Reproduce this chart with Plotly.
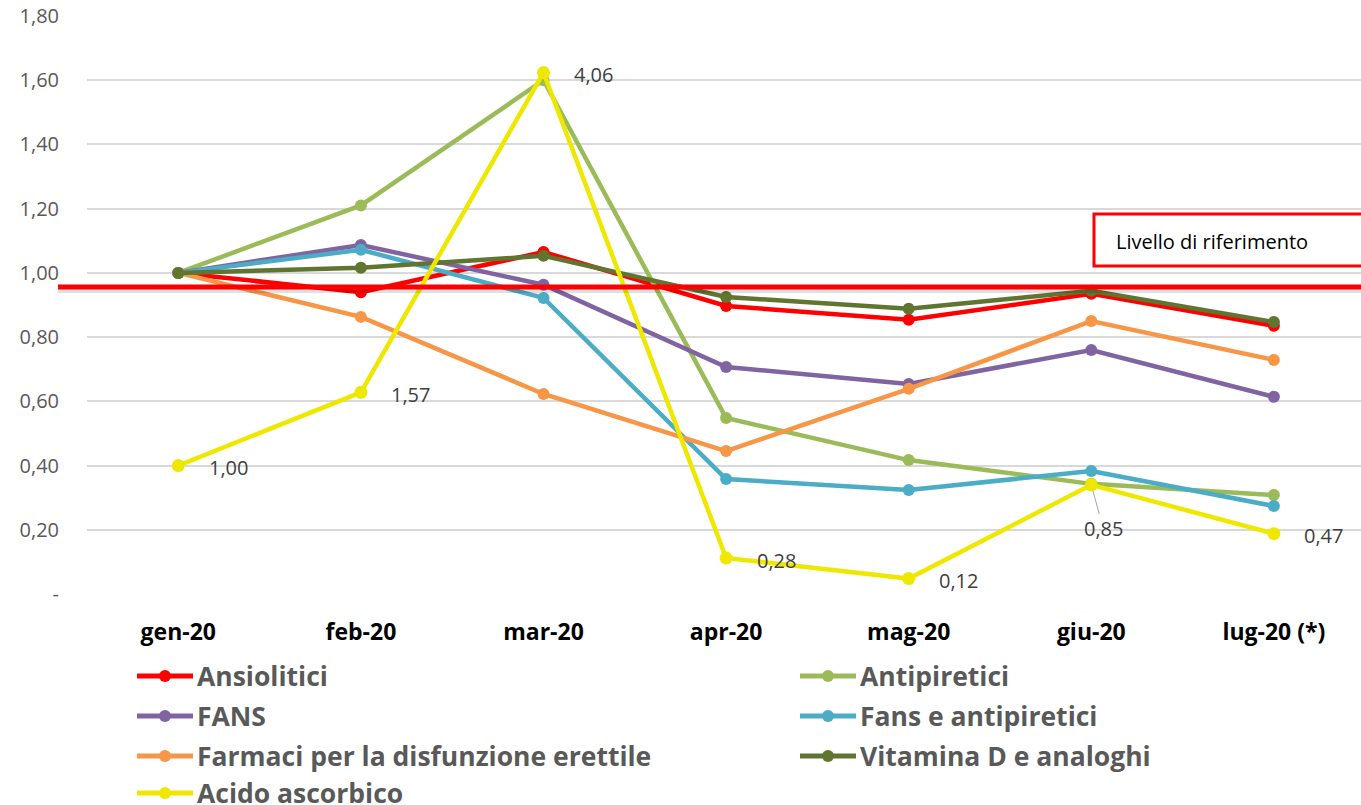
import plotly.graph_objects as go

# Months (x categories)
mesi = ["gen-20", "feb-20", "mar-20", "apr-20", "mag-20", "giu-20", "lug-20 (*)"]

# Index values (gen-20 = 1,00) per drug class
ansiolitici = [1.00, 0.94, 1.065, 0.897, 0.854, 0.935, 0.835]
antipiretici = [1.00, 1.21, 1.60, 0.548, 0.417, 0.343, 0.308]
fans = [1.00, 1.087, 0.963, 0.707, 0.654, 0.760, 0.614]
fans_antipiretici = [1.00, 1.072, 0.922, 0.358, 0.324, 0.383, 0.274]
disfunzione_erettile = [1.00, 0.863, 0.623, 0.445, 0.639, 0.850, 0.729]
vitamina_d = [1.00, 1.016, 1.053, 0.925, 0.888, 0.944, 0.847]
# Acido ascorbico runs on its own (hidden) secondary scale
acido_ascorbico = [1.00, 1.57, 4.06, 0.28, 0.12, 0.85, 0.47]

livello_riferimento = 0.956

y_ticks = [0, 0.2, 0.4, 0.6, 0.8, 1.0, 1.2, 1.4, 1.6, 1.8]
y_ticktext = ["-", "0,20", "0,40", "0,60", "0,80", "1,00", "1,20", "1,40", "1,60", "1,80"]

series = [
    ("Ansiolitici", ansiolitici, "#FF0000", "y"),
    ("Antipiretici", antipiretici, "#9BBB59", "y"),
    ("FANS", fans, "#8064A2", "y"),
    ("Fans e antipiretici", fans_antipiretici, "#4BACC6", "y"),
    ("Farmaci per la disfunzione erettile", disfunzione_erettile, "#F79646", "y"),
    ("Vitamina D e analoghi", vitamina_d, "#5F7530", "y"),
    ("Acido ascorbico", acido_ascorbico, "#EEE800", "y2"),
]

FONT = "Open Sans"
W, H = 1361, 805
ML, MR, MT, MB = 87, 0, 16, 211
PW, PH = W - ML - MR, H - MT - MB

fig = go.Figure()
for name, vals, col, yax in series:
    fig.add_trace(go.Scatter(
        x=mesi, y=vals, name=name, yaxis=yax, mode="lines+markers",
        line=dict(color=col, width=4.5),
        marker=dict(color=col, size=13 if yax == "y2" else 12),
        showlegend=False, hoverinfo="x+y+name",
    ))

annotations = []
# value labels for Acido ascorbico
for m, v in zip(mesi, acido_ascorbico):
    txt = f"{v:.2f}".replace(".", ",")
    if m == "giu-20":
        annotations.append(dict(
            x=m, y=v, xref="x", yref="y2", text=txt, showarrow=True,
            ax=12, ay=44, arrowhead=0, arrowwidth=1, arrowcolor="#A6A6A6",
            standoff=6, font=dict(family=FONT, size=20, color="#404040"),
        ))
    else:
        annotations.append(dict(
            x=m, y=v, xref="x", yref="y2", text=txt, showarrow=False,
            xanchor="center", xshift=50, yshift=-2,
            font=dict(family=FONT, size=20, color="#404040"),
        ))

shapes = []
# reference line with faint shadow
shapes.append(dict(type="line", xref="paper", yref="y",
                   x0=(58 - ML) / PW, x1=1.01,
                   y0=livello_riferimento - 0.011, y1=livello_riferimento - 0.011,
                   line=dict(color="rgba(0,0,0,0.12)", width=5), layer="above"))
shapes.append(dict(type="line", xref="paper", yref="y",
                   x0=(58 - ML) / PW, x1=1.01,
                   y0=livello_riferimento, y1=livello_riferimento,
                   line=dict(color="#FF0000", width=5), layer="above"))


def px_to_y(py):
    return (MT + PH - py) / PH * 1.8


# reference box
shapes.append(dict(type="rect", xref="paper", yref="y",
                   x0=(1094 - ML) / PW, x1=1.02,
                   y0=px_to_y(266), y1=px_to_y(214),
                   line=dict(color="#FF0000", width=3), fillcolor="white", layer="above"))
annotations.append(dict(xref="paper", yref="y", x=(1114 - ML) / PW, y=px_to_y(241),
                        xanchor="left", yanchor="middle", showarrow=False,
                        text="Livello di riferimento",
                        font=dict(family=FONT, size=20, color="#000000")))

# legend drawn in two columns below the axis
col_x = [137, 800]
row_y = [676, 716, 756, 793]
for k, (name, vals, col, yax) in enumerate(series):
    cx = col_x[k % 2]
    cy = row_y[k // 2]
    yp = (MT + PH - cy) / PH
    shapes.append(dict(type="line", xref="paper", yref="paper",
                       x0=(cx - ML) / PW, x1=(cx + 56 - ML) / PW, y0=yp, y1=yp,
                       line=dict(color=col, width=5)))
    shapes.append(dict(type="circle", xref="paper", yref="paper",
                       x0=(cx + 22 - ML) / PW, x1=(cx + 34 - ML) / PW,
                       y0=yp - 6 / PH, y1=yp + 6 / PH,
                       line=dict(color=col, width=0), fillcolor=col))
    annotations.append(dict(xref="paper", yref="paper", x=(cx + 58 - ML) / PW, y=yp,
                            xanchor="left", yanchor="middle", showarrow=False,
                            text=f"<b>{name}</b>",
                            font=dict(family=FONT, size=26.5, color="#595959")))

fig.update_layout(
    width=W, height=H,
    margin=dict(l=ML, r=MR, t=MT, b=MB),
    paper_bgcolor="white", plot_bgcolor="white",
    showlegend=False,
    xaxis=dict(
        type="category", range=[-0.5, 6.477],
        showgrid=False, zeroline=False, showline=False, ticks="",
        tickfont=dict(family=FONT, size=23, color="#000000", weight="bold"),
        ticklabelstandoff=22,
    ),
    yaxis=dict(
        range=[0, 1.8], tickvals=y_ticks, ticktext=y_ticktext,
        showgrid=True, gridcolor="#D9D9D9", gridwidth=1.5,
        zeroline=False, showline=False, ticks="",
        tickfont=dict(family=FONT, size=20, color="#595959"),
        ticklabelstandoff=27,
    ),
    yaxis2=dict(range=[0, 4.5], overlaying="y", visible=False),
    shapes=shapes,
    annotations=annotations,
    font=dict(family=FONT),
)

fig.write_html("out.html")
